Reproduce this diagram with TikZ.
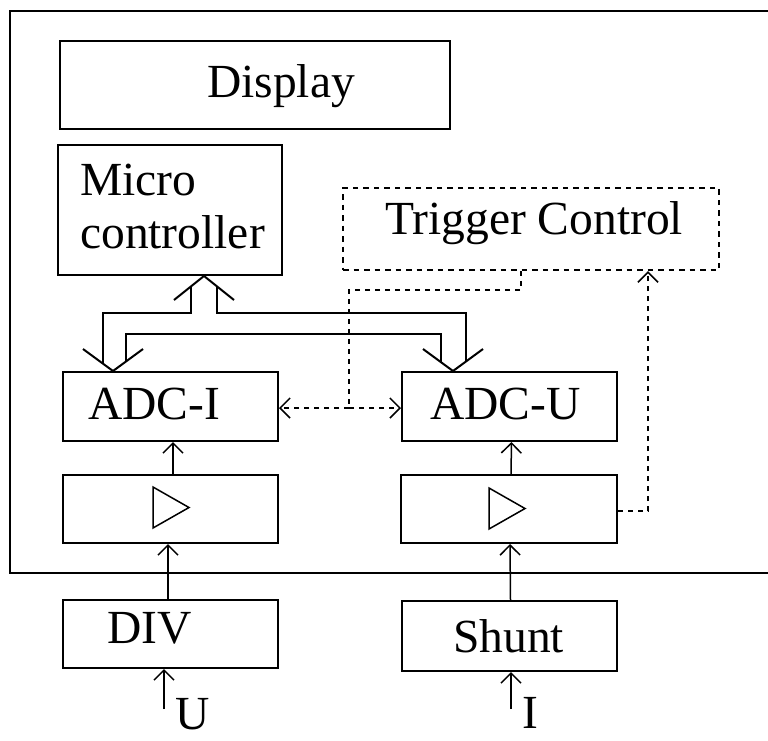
\documentclass[tikz,border=0pt]{standalone}
\usepackage{fontspec}
\setmainfont{Liberation Serif}
\usetikzlibrary{arrows.meta,calc}
\tikzset{
  box/.style={draw, line width=2pt, inner sep=0pt},
  dotbox/.style={draw, line width=2.4pt, inner sep=0pt, dash pattern=on 5.5pt off 5pt},
  txt/.style={inner sep=0pt, anchor=base west, font=\fontsize{47.5}{52}\selectfont},
  arr/.style={line width=1.5pt, -{Straight Barb[length=10pt,width=20pt]}},
  dotline/.style={line width=2.2pt, dash pattern=on 5pt off 5pt},
  dotarr/.style={dotline, -{Straight Barb[length=10pt,width=20pt,line width=1.5pt]}},
  bus/.style={line width=2pt, line join=miter},
}
\begin{document}
\begin{tikzpicture}[x=1pt,y=-1pt]
\useasboundingbox (0,0) rectangle (768,740);
\clip (0,0) rectangle (768,740);
\fill[white] (0,0) rectangle (768,740);
% outer frame
\draw[line width=2.6pt] (10,11) rectangle (800,573);
% boxes
\node[box, minimum width=390pt, minimum height=88pt] (disp) at (255,85) {};
\node[box, minimum width=224pt, minimum height=130pt] (mc) at (170,210) {};
\node[dotbox, minimum width=376pt, minimum height=82pt] (trig) at (531,229) {};
\node[box, minimum width=215pt, minimum height=69pt] (adci) at (170.5,406.5) {};
\node[box, minimum width=215pt, minimum height=69pt] (adcu) at (509.5,406.5) {};
\node[box, minimum width=215pt, minimum height=68pt] (ampi) at (170.5,509) {};
\node[box, minimum width=216pt, minimum height=68pt] (ampu) at (509,509) {};
\node[box, minimum width=215pt, minimum height=68pt] (div) at (170.5,634) {};
\node[box, minimum width=215pt, minimum height=70pt] (shunt) at (509.5,636) {};
% texts
\node[txt] (tdisp) at (207,97) {Display};
\node[txt] (tmc1) at (80,195) {Micro};
\node[txt] (tmc2) at (80,248) {controller};
\node[txt] (ttrig) at (385,234) {Trigger Control};
\node[txt] (tadci) at (88,419) {ADC-I};
\node[txt] (tadcu) at (430,419) {ADC-U};
\node[txt] (tdiv) at (107,643) {DIV};
\node[txt] (tshunt) at (453,652) {Shunt};
\node[txt] (tu) at (175,729) {U};
\node[txt] (ti) at (522,728) {I};
% amplifier triangles
\draw[line width=1.5pt] (153,487) -- (153,528) -- (189,507.5) -- cycle;
\draw[line width=1.5pt] (489,488) -- (489,529) -- (525,508.5) -- cycle;
% solid arrows
\draw[arr] ([xshift=2.5pt]ampi.north) -- ([xshift=2.5pt]adci.south);
\draw[arr] ([xshift=-2.5pt]div.north) -- ([xshift=-2.5pt]ampi.south);
\draw[arr] ([xshift=2pt]ampu.north) -- ([xshift=2pt]adcu.south);
\draw[arr] ([xshift=1pt]shunt.north) -- ([xshift=1pt]ampu.south);
\coordinate (uin) at (164,709);
\coordinate (iin) at (511,709);
\draw[arr] (uin) -- (div.south -| uin);
\draw[arr] (iin) -- (shunt.south -| iin);
% dotted connections
\coordinate (tp) at ([xshift=117pt]trig.south);
\draw[dotarr] ([yshift=-2pt]ampu.east) -| (tp);
\coordinate (j) at (349,408);
\draw[dotline] ([xshift=-10pt]trig.south) -- ++(0,19) -| (j);
\draw[dotarr] (j) -- (adci.east |- j);
\draw[dotarr] (j) -- (adcu.west |- j);
% bus
\coordinate (bm) at ([xshift=34pt]mc.south);
\coordinate (bi) at ([xshift=-57.5pt]adci.north);
\coordinate (bu) at ([xshift=-56.5pt]adcu.north);
\draw[bus] ($(bm)+(-30,24)$) -- (bm) -- ($(bm)+(30,24)$);
\draw[bus] ($(bi)+(-30,-22)$) -- (bi) -- ($(bi)+(30,-22)$);
\draw[bus] ($(bu)+(-30,-22)$) -- (bu) -- ($(bu)+(30,-22)$);
\draw[bus] ($(bm)+(-13,10.4)$) -- ++(0,26.6) -| ($(bi)+(-10,-7.3)$);
\draw[bus] ($(bm)+(13,10.4)$) -- ++(0,26.6) -| ($(bu)+(13,-9.5)$);
\draw[bus] ($(bi)+(13,-9.5)$) -- ++(0,-27.5) -| ($(bu)+(-12,-8.8)$);
\end{tikzpicture}
\end{document}
